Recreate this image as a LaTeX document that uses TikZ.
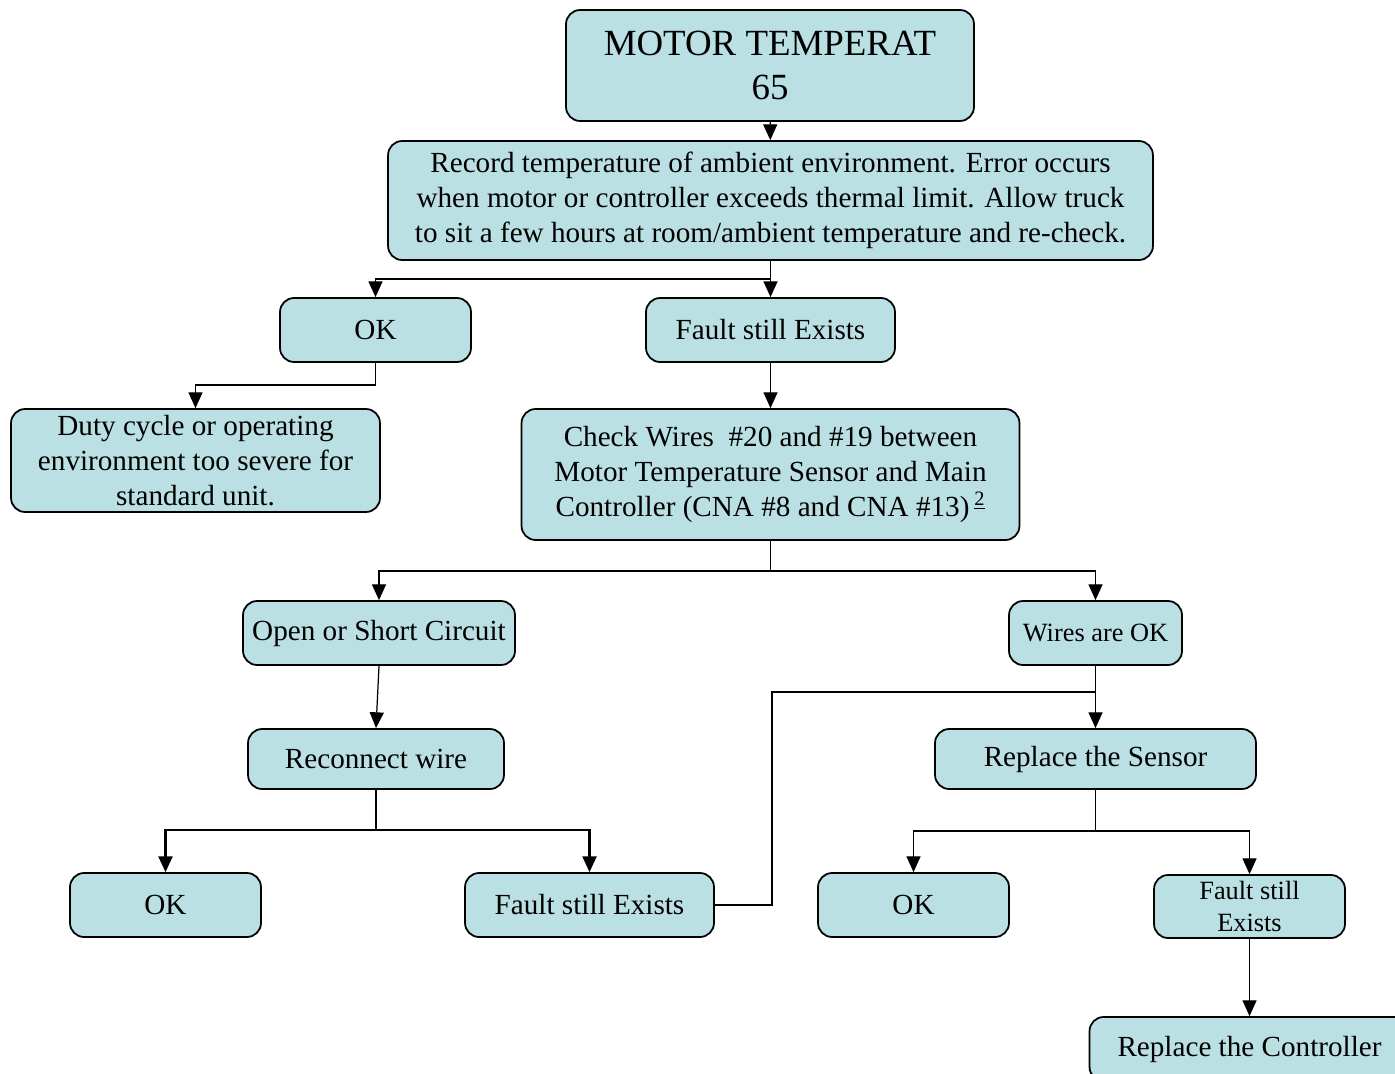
\documentclass[tikz,border=0pt]{standalone}
\usepackage{fontspec}
\setmainfont{Liberation Serif}
\usepackage{tikz}
\usetikzlibrary{arrows.meta}

\definecolor{boxfill}{HTML}{BAE0E3}
\tikzset{
  box/.style={draw,fill=boxfill,rounded corners=8pt,line width=1pt,align=center,
    inner sep=0pt,font=\fontsize{16.6}{20}\selectfont},
  small/.style={font=\fontsize{15}{18}\selectfont},
  link/.style={->,line width=0.7pt},
}

\begin{document}
\begin{tikzpicture}[x=0.02cm,y=-0.02cm,>/.tip={Triangle[width=8pt,length=9pt]}]
\useasboundingbox (0,0) rectangle (1395,1074);

\draw (770,65.5)    node (title) [box,minimum width=8.16cm,minimum height=2.22cm,font=\fontsize{21}{25.5}\selectfont] {MOTOR TEMPERAT\\65};
\draw (770.5,200.5) node (record) [box,minimum width=15.3cm,minimum height=2.38cm] {Record temperature of ambient environment. Error occurs\\when motor or controller exceeds thermal limit. Allow truck\\to sit a few hours at room/ambient temperature and re-check.};
\draw (375.5,330)   node (ok1) [box,minimum width=3.82cm,minimum height=1.28cm] {OK};
\draw (770.5,330)   node (fault1) [box,minimum width=4.98cm,minimum height=1.28cm] {Fault still Exists};
\draw (195.5,460.5) node (duty) [box,minimum width=7.38cm,minimum height=2.06cm] {Duty cycle or operating\\environment too severe for\\standard unit.};
\draw (770.5,474.5) node (check) [box,minimum width=9.96cm,minimum height=2.62cm] {Check Wires\ \ \#20 and \#19 between\\Motor Temperature Sensor and Main\\Controller (CNA \#8 and CNA \#13)\,\textsuperscript{\underline{2}}};
\draw (379,633)     node (open) [box,minimum width=5.44cm,minimum height=1.28cm] {Open or Short Circuit};
\draw (1095.5,633)  node (wiresok) [box,small,minimum width=3.46cm,minimum height=1.28cm] {Wires are OK};
\draw (376,759)     node (reconnect) [box,minimum width=5.12cm,minimum height=1.2cm] {Reconnect wire};
\draw (1095.5,759)  node (sensor) [box,minimum width=6.42cm,minimum height=1.2cm] {Replace the Sensor};
\draw (165.5,905)   node (ok2) [box,minimum width=3.82cm,minimum height=1.28cm] {OK};
\draw (589.5,905)   node (fault2) [box,minimum width=4.98cm,minimum height=1.28cm] {Fault still Exists};
\draw (913.5,905)   node (ok3) [box,minimum width=3.82cm,minimum height=1.28cm] {OK};
\draw (1249.5,906.5) node (fault3) [box,small,minimum width=3.82cm,minimum height=1.26cm] {Fault still\\Exists};
\draw (1249.5,1049) node (controller) [box,minimum width=6.4cm,minimum height=1.28cm] {Replace the Controller};

% junctions
\coordinate (s1) at (770.5,279);
\coordinate (s2) at (375.5,385);
\coordinate (s3) at (770.5,571);
\coordinate (s4) at (376,830);
\coordinate (s5) at (1095.5,831);
\coordinate (up) at (772,692);
\coordinate (join) at (1095.5,692);

\draw[link] (title) -- (record);
\draw[link] (record.south) -- (s1) -| (ok1.north);
\draw[link] (s1) -- (fault1.north);
\draw[link] (s2) -| (duty.north);
\draw[line width=0.7pt] (ok1.south) -- (s2);
\draw[link] (fault1) -- (check);
\draw[link] (check.south) -- (s3) -| (open.north);
\draw[link] (s3) -| (wiresok.north);
\draw[link] (open.south) -- (reconnect.north);
\draw[line width=1.2pt] (reconnect.south) -- (s4);
\draw[link,line width=1.2pt] (s4) -| (ok2.north);
\draw[link,line width=1.2pt] (s4) -| (fault2.north);
\draw[link] (wiresok) -- (sensor);
\draw[line width=0.7pt] (fault2.east) -| (up) -- (join);
\draw[line width=0.7pt] (sensor.south) -- (s5);
\draw[link] (s5) -| (ok3.north);
\draw[link] (s5) -| (fault3.north);
\draw[link] (fault3) -- (controller);

\end{tikzpicture}
\end{document}
